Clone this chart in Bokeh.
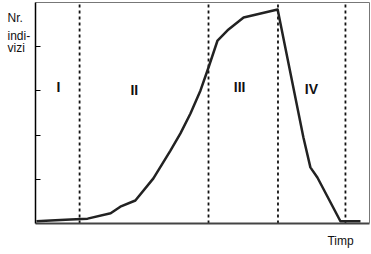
from bokeh.plotting import figure
from bokeh.models import Range1d, FixedTicker, Label, LinearAxis
from bokeh.embed import file_html
from bokeh.resources import INLINE

# Curve: time (0-100) vs. number of individuals (0-5)
time = [0.3, 4.5, 10.5, 15.6, 22.5, 25.4, 29.9, 35.3, 40.4, 43.4, 46.4, 49.4,
        51.8, 54.5, 57.5, 62.3, 72.5, 80.2, 82.3, 84.4, 91.3, 97.3]
individuals = [0.05, 0.07, 0.09, 0.11, 0.23, 0.38, 0.52, 1.02, 1.65, 2.04, 2.49, 3.01,
               3.53, 4.14, 4.37, 4.66, 4.84, 1.95, 1.27, 1.04, 0.05, 0.05]

phase_bounds = [13.2, 51.8, 72.6, 92.8]
phase_names = ["I", "II", "III", "IV"]
phase_x = [6.9, 29.6, 61.1, 82.6]
phase_y = [3.08, 3.01, 3.08, 3.05]
y_ticks = [1, 2, 3, 4]
x_max, y_max = 100, 5.0

FONT = "Liberation Sans"

p = figure(width=371, height=254, output_backend="svg", toolbar_location=None,
           x_range=Range1d(-10.479, 100.599), y_range=Range1d(-0.7014, 5.0452),
           x_axis_location=None, y_axis_location=None,
           min_border=0, min_border_left=0, min_border_right=0,
           min_border_top=0, min_border_bottom=0)
p.background_fill_color = "white"
p.border_fill_color = "white"
p.outline_line_color = None
p.xgrid.visible = False
p.ygrid.visible = False


def frame_axis(cls_side, loc, bounds, ticks, color, width, tick_in=0):
    ax = LinearAxis(fixed_location=loc, bounds=bounds, ticker=FixedTicker(ticks=ticks),
                    major_tick_in=tick_in, major_tick_out=0,
                    minor_tick_line_color=None, major_label_text_color=None,
                    major_label_text_font_size="6px", axis_line_color=color,
                    axis_line_width=width, major_tick_line_color=color)
    p.add_layout(ax, cls_side)
    return ax


frame_axis("left", 0, (0, y_max), y_ticks, "black", 1.5, tick_in=5)
frame_axis("below", 0, (0, x_max), [], "#444444", 2)
frame_axis("above", y_max, (0, x_max), [], "#777777", 1)
frame_axis("right", x_max, (0, y_max), [], "#777777", 1)

p.segment(x0=phase_bounds, y0=[0] * len(phase_bounds), x1=phase_bounds,
          y1=[y_max] * len(phase_bounds), line_color="#111111",
          line_width=1.8, line_dash="3 3")

p.line(time, individuals, line_color="#222222", line_width=2.5, line_join="round")

for name, x, y in zip(phase_names, phase_x, phase_y):
    p.add_layout(Label(x=x, y=y, text=name, text_font=FONT, text_font_size="14px",
                       text_font_style="bold", text_align="center",
                       text_baseline="middle", text_color="#111111"))

for txt, y in zip(["Nr.", "indi-", "vizi"], [4.64, 4.25, 3.96]):
    p.add_layout(Label(x=-8.38, y=y, text=txt, text_font=FONT, text_font_size="12px",
                       text_align="left", text_baseline="alphabetic",
                       text_color="#111111"))

p.add_layout(Label(x=87.4, y=-0.385, text="Timp", text_font=FONT, text_font_size="12px",
                   text_align="left", text_baseline="alphabetic", text_color="#111111"))

open("out.html", "w").write(file_html(p, INLINE))
